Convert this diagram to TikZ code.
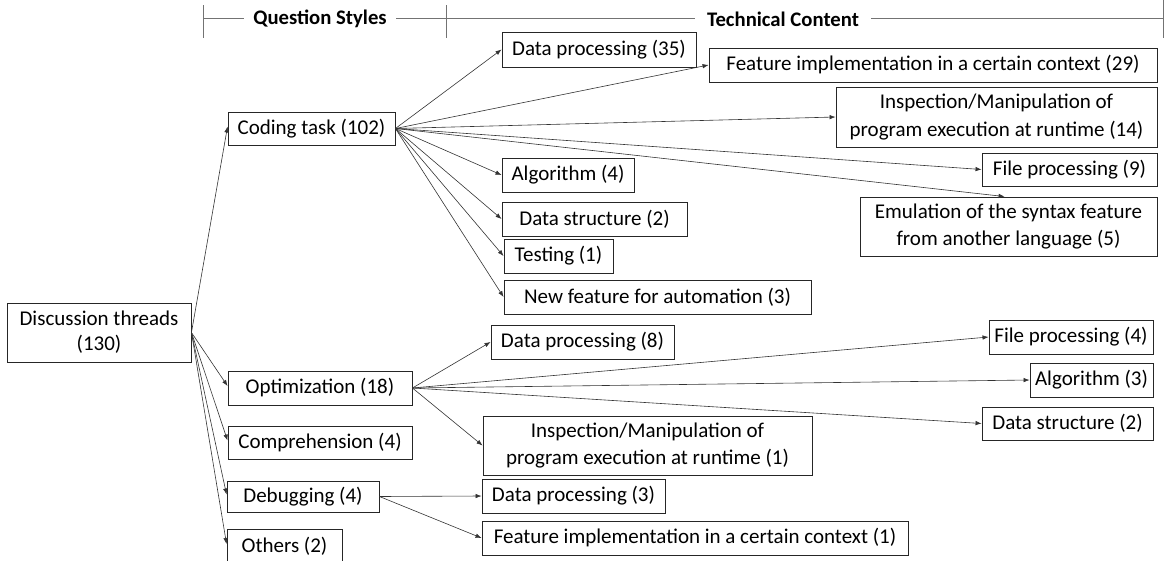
\documentclass[tikz,border=0pt]{standalone}
\usepackage{fontspec}
\setmainfont{Carlito}
\usetikzlibrary{arrows.meta}
\begin{document}
\begin{tikzpicture}[x=1pt,y=-1pt,
  bx/.style={draw=black!85,line width=0.9pt,inner sep=0pt,align=center,
    font=\fontsize{21}{27.5}\selectfont,text=black},
  arr/.style={draw=black!80,line width=0.6pt,-{Latex[length=6pt,width=4.5pt]}},
  hdr/.style={fill=white,inner xsep=9pt,inner ysep=2pt,font=\fontsize{20.7}{25}\selectfont\bfseries},
  rule/.style={draw=black!55,line width=1pt}]
\useasboundingbox (0,0) rectangle (1165,560);
% header
\coordinate (hl) at (203,18);
\coordinate (hr) at (1163,18);
\coordinate (hm) at (446,18);
\draw[rule] (hl) -- (hr);
\draw[rule] ([yshift=13pt]hl) -- ([yshift=-20pt]hl);
\draw[rule] ([yshift=13pt]hm) -- ([yshift=-20pt]hm);
\draw[rule] ([yshift=18pt]hr) -- ([yshift=-20pt]hr);
\node[hdr] (qs) at (320,19) {Question Styles};
\node[hdr,inner xsep=12pt] (tc) at (783,19) {Technical Content};
% level 0/1
\node[bx,minimum width=184pt,minimum height=59pt,font=\fontsize{21}{25}\selectfont] (dt) at (99,332.5) {Discussion threads\\(130)};
\node[bx,minimum width=167pt,minimum height=33pt] (ct) at (311.5,128.5) {Coding task (102)};
\node[bx,minimum width=184pt,minimum height=34pt] (op) at (320,388) {Optimization (18)};
\node[bx,minimum width=184pt,minimum height=33pt] (co) at (320,442.5) {Comprehension (4)};
\node[bx,minimum width=152pt,minimum height=31pt] (de) at (303,496.5) {Debugging (4)};
\node[bx,minimum width=115pt,minimum height=33pt] (ot) at (284.5,546) {Others (2)};
% coding task children
\node[bx,minimum width=194pt,minimum height=35pt] (dp35) at (599,49.5) {Data processing (35)};
\node[bx,minimum width=448pt,minimum height=34pt] (fi29) at (933,65) {Feature implementation in a certain context (29)};
\node[bx,minimum width=321pt,minimum height=60pt] (in14) at (996.5,117) {Inspection/Manipulation of\\program execution at runtime (14)};
\node[bx,minimum width=175pt,minimum height=33pt] (fp9) at (1069.5,169.5) {File processing (9)};
\node[bx,minimum width=297pt,minimum height=59pt] (em5) at (1008.5,226.5) {Emulation of the syntax feature\\from another language (5)};
\node[bx,minimum width=132pt,minimum height=34pt] (al4) at (568,175) {Algorithm (4)};
\node[bx,minimum width=185pt,minimum height=34pt] (ds2) at (594.5,219) {Data structure (2)};
\node[bx,minimum width=109pt,minimum height=34pt] (te1) at (558.5,256) {Testing (1)};
\node[bx,minimum width=307pt,minimum height=34pt] (nf3) at (657.5,297) {New feature for automation (3)};
% optimization children
\node[bx,minimum width=183pt,minimum height=34pt] (dp8) at (582.5,342) {Data processing (8)};
\node[bx,minimum width=329pt,minimum height=59pt] (in1) at (647.5,445.5) {Inspection/Manipulation of\\program execution at runtime (1)};
\node[bx,minimum width=164pt,minimum height=34pt] (fp4) at (1071,337) {File processing (4)};
\node[bx,minimum width=123pt,minimum height=34pt] (al3) at (1091.5,380) {Algorithm (3)};
\node[bx,minimum width=171pt,minimum height=33pt] (dsb) at (1067.5,423.5) {Data structure (2)};
% debugging children
\node[bx,minimum width=183pt,minimum height=34pt] (dp3) at (573.5,496) {Data processing (3)};
\node[bx,minimum width=426pt,minimum height=34pt] (fi1) at (695,538) {Feature implementation in a certain context (1)};
% connectors
\foreach \t in {ct,op,co,de,ot}
  \draw[arr] (dt.east) -- ([yshift=2pt]\t.west);
\foreach \t in {dp35,fi29,in14,fp9,al4,ds2,te1,nf3}
  \draw[arr] (ct.east) -- (\t.west);
\draw[arr] (ct.east) -- ([xshift=145pt]em5.north west);
\foreach \t in {dp8,in1,fp4,al3,dsb}
  \draw[arr] (op.east) -- (\t.west);
\foreach \t in {dp3,fi1}
  \draw[arr] (de.east) -- (\t.west);
\end{tikzpicture}
\end{document}
